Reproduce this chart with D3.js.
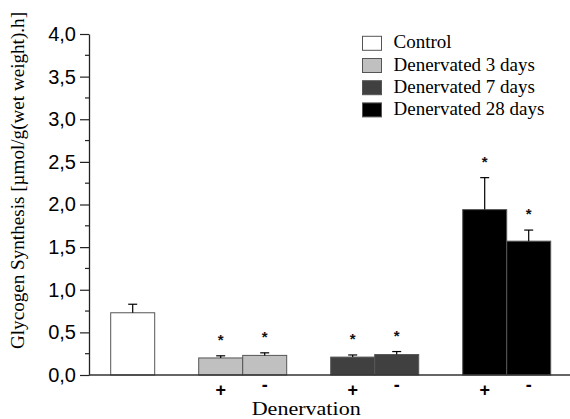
<!DOCTYPE html>
<html>
<head>
<meta charset="utf-8">
<script src="https://cdn.jsdelivr.net/npm/d3@7/dist/d3.min.js"></script>
<style>
  html, body { margin: 0; padding: 0; background: #fff; }
  svg { display: block; }
  .serif { font-family: "Liberation Serif", "Times New Roman", Times, serif; }
  .sans { font-family: "Liberation Sans", Arial, Helvetica, sans-serif; }
</style>
</head>
<body>
<svg id="chart" width="570" height="419"></svg>
<script>
// Glycogen synthesis per treatment group (mean + SEM)
const groupNames = ["Control", "Denervated 3 days", "Denervated 7 days", "Denervated 28 days"];
const groupFills = ["#ffffff", "#c0c0c0", "#404040", "#000000"];
const barGroup = [0, 1, 1, 2, 2, 3, 3];
const barSign = ["", "+", "-", "+", "-", "+", "-"];
const barMean = [0.73, 0.20, 0.23, 0.21, 0.24, 1.94, 1.57];
const barSem = [0.10, 0.025, 0.03, 0.025, 0.035, 0.375, 0.13];
const barStar = [false, true, true, true, true, true, true];
const yTicks = [0, 0.5, 1.0, 1.5, 2.0, 2.5, 3.0, 3.5, 4.0];
const yTitle = "Glycogen Synthesis [µmol/g(wet weight).h]";
const xTitle = "Denervation";

const svg = d3.select("#chart");
const W = 570, H = 419;
const axisX = 89, baseY = 375, topY = 34;

// ten equal slots: control, gap, 3d(+,-), gap, 7d(+,-), gap, 28d(+,-)
const slotOf = (g, s) => g === 0 ? 0 : 3 * g - 1 + (s === "-" ? 1 : 0);
const x = d3.scaleBand().domain(d3.range(10)).range([110.7, 550.7]).padding(0);
const y = d3.scaleLinear().domain([0, 4]).range([baseY, topY]);

const bars = barMean.map((m, i) => ({
  g: barGroup[i], sign: barSign[i], mean: m, sem: barSem[i], star: barStar[i],
  slot: slotOf(barGroup[i], barSign[i])
}));

// bars
svg.append("g").selectAll("rect").data(bars).join("rect")
  .attr("x", d => x(d.slot))
  .attr("y", d => y(d.mean))
  .attr("width", x.bandwidth())
  .attr("height", d => y(0) - y(d.mean))
  .attr("fill", d => groupFills[d.g])
  .attr("stroke", "#555")
  .attr("stroke-width", 1);

// error bars (upper only)
const eb = svg.append("g").attr("stroke", "#000").attr("stroke-width", 1.2);
bars.forEach(d => {
  const cx = x(d.slot) + x.bandwidth() / 2;
  eb.append("line").attr("x1", cx).attr("x2", cx)
    .attr("y1", y(d.mean)).attr("y2", y(d.mean + d.sem));
  eb.append("line").attr("x1", cx - 4.5).attr("x2", cx + 4.5)
    .attr("y1", y(d.mean + d.sem)).attr("y2", y(d.mean + d.sem));
});

// significance marks
svg.append("g").selectAll("text").data(bars.filter(d => d.star)).join("text")
  .attr("class", "sans")
  .attr("x", d => x(d.slot) + x.bandwidth() / 2)
  .attr("y", d => y(d.mean + d.sem) - 11)
  .attr("text-anchor", "middle")
  .attr("font-weight", "bold")
  .attr("font-size", 15)
  .attr("fill", "#111")
  .text("*");

// y axis with comma decimals
const fmt = d => d3.format(".1f")(d).replace(".", ",");
const yAxis = svg.append("g")
  .attr("transform", `translate(${axisX},0)`)
  .call(d3.axisLeft(y).tickValues(yTicks).tickFormat(fmt).tickSize(9).tickSizeOuter(0).tickPadding(4));
yAxis.attr("font-family", null).attr("font-size", null);
yAxis.select(".domain").attr("stroke", "#222").attr("stroke-width", 1.3);
yAxis.selectAll(".tick line").attr("stroke", "#222").attr("stroke-width", 1.2);
yAxis.selectAll(".tick text")
  .attr("class", "sans")
  .attr("font-size", 20)
  .attr("fill", "#000");

// minor ticks
svg.append("g").selectAll("line").data(d3.range(0.25, 4, 0.5)).join("line")
  .attr("x1", axisX - 4).attr("x2", axisX)
  .attr("y1", d => y(d)).attr("y2", d => y(d))
  .attr("stroke", "#222").attr("stroke-width", 1.2);

// x baseline
svg.append("line")
  .attr("x1", axisX).attr("x2", W)
  .attr("y1", y(0)).attr("y2", y(0))
  .attr("stroke", "#333").attr("stroke-width", 1.5);

// +/- labels under bars
svg.append("g").selectAll("text").data(bars.filter(d => d.sign)).join("text")
  .attr("class", "sans")
  .attr("x", d => x(d.slot) + x.bandwidth() / 2)
  .attr("y", d => d.sign === "+" ? 396 : 391)
  .attr("text-anchor", "middle")
  .attr("font-weight", "bold")
  .attr("font-size", 18)
  .attr("fill", "#000")
  .text(d => d.sign);

// axis titles
svg.append("text")
  .attr("class", "serif")
  .attr("x", 306.2).attr("y", 415)
  .attr("text-anchor", "middle")
  .attr("font-size", 18.5)
  .attr("textLength", 109).attr("lengthAdjust", "spacingAndGlyphs")
  .text(xTitle);

svg.append("text")
  .attr("class", "serif")
  .attr("transform", "translate(23.5,180.5) rotate(-90)")
  .attr("text-anchor", "middle")
  .attr("font-size", 18.5)
  .attr("textLength", 337).attr("lengthAdjust", "spacingAndGlyphs")
  .text(yTitle);

// legend
const legend = svg.append("g").attr("transform", "translate(362.5,36.3)");
const li = legend.selectAll("g").data(groupNames).join("g")
  .attr("transform", (d, i) => `translate(0,${i * 22.2})`);
li.append("rect")
  .attr("width", 19).attr("height", 14)
  .attr("fill", (d, i) => groupFills[i])
  .attr("stroke", "#555").attr("stroke-width", 1);
li.append("text")
  .attr("class", "serif")
  .attr("x", 31).attr("y", 12)
  .attr("font-size", 19)
  .attr("fill", "#000")
  .text(d => d);
</script>
</body>
</html>
